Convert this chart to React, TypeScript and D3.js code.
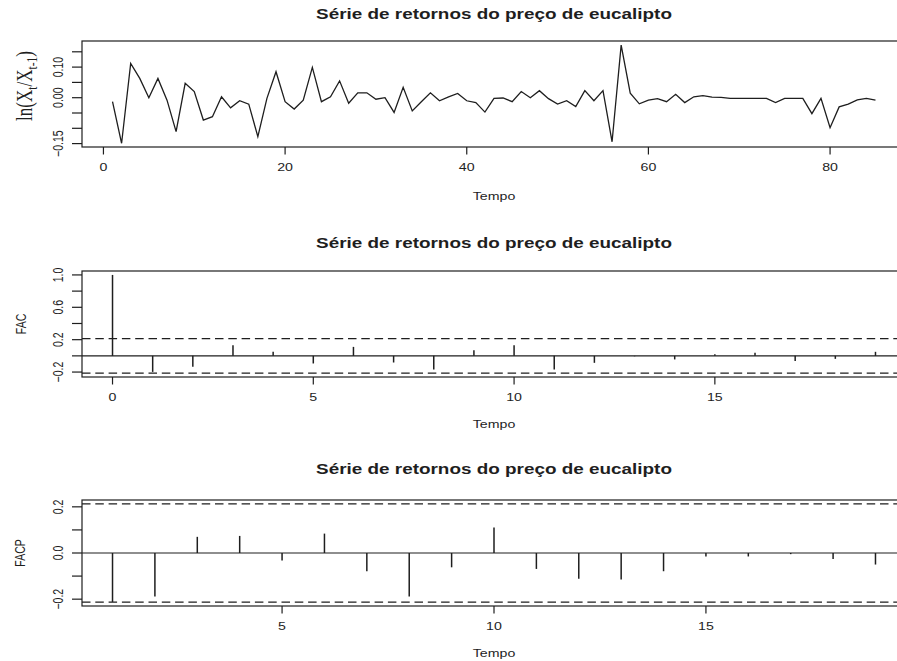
import React from 'react';
import * as d3 from 'd3';

// ---------- DATA ----------
const returnsSeries: number[] = [
  -0.013, -0.149, 0.112, 0.063, 0.0, 0.063, -0.008, -0.111, 0.047, 0.02,
  -0.073, -0.062, 0.003, -0.033, -0.01, -0.021, -0.127, -0.002, 0.085, -0.013,
  -0.037, -0.008, 0.099, -0.013, 0.003, 0.055, -0.018, 0.016, 0.016, -0.005,
  0.0, -0.048, 0.034, -0.043, -0.013, 0.016, -0.01, 0.003, 0.014, -0.01,
  -0.016, -0.047, -0.002, -0.001, -0.013, 0.02, 0.0, 0.023, -0.003, -0.021,
  -0.01, -0.029, 0.023, -0.01, 0.023, -0.144, 0.172, 0.015, -0.02, -0.008,
  -0.003, -0.013, 0.011, -0.016, 0.003, 0.007, 0.002, 0.001, -0.002, -0.002,
  -0.002, -0.002, -0.002, -0.016, -0.002, -0.002, -0.002, -0.052, -0.002, -0.098,
  -0.03, -0.021, -0.007, -0.002, -0.008,
];
const acfValues: number[] = [
  1.0, -0.198, -0.136, 0.132, 0.05, -0.094, 0.111, -0.082, -0.168, 0.07,
  0.132, -0.168, -0.086, -0.005, -0.044, 0.02, 0.037, -0.062, -0.037, 0.05,
];
const pacfValues: number[] = [
  -0.212, -0.188, 0.07, 0.074, -0.033, 0.084, -0.079, -0.188, -0.062, 0.11,
  -0.069, -0.112, -0.115, -0.079, -0.015, -0.015, -0.005, -0.026, -0.05,
];
const confBound = 0.2126;

const tsXTicks = [0, 20, 40, 60, 80];
const tsYTicks = [-0.15, -0.1, -0.05, 0, 0.05, 0.1, 0.15];
const tsYLabelled = [-0.15, 0, 0.1];
const acfXTicks = [0, 5, 10, 15];
const acfYTicks = [-0.2, 0, 0.2, 0.4, 0.6, 0.8, 1.0];
const acfYLabelled = [-0.2, 0.2, 0.6, 1.0];
const pacfXTicks = [5, 10, 15];
const pacfYTicks = [-0.2, -0.1, 0, 0.1, 0.2];
const pacfYLabelled = [-0.2, 0, 0.2];

const titleText = 'Série de retornos do preço de eucalipto';
const xLabelText = 'Tempo';
const acfLabel = 'FAC';
const pacfLabel = 'FACP';

// ---------- LAYOUT ----------
const W = 897;
const H = 661;
const LEFT = 82;
const RIGHT = 906;
const SX = 1.35; // horizontal glyph stretch of the reference
const INK = '#1e1e1e';
const FONT = '"Liberation Sans", Arial, sans-serif';

const fmt2 = (v: number) => (Math.abs(v) < 1e-9 ? '0.00' : d3.format('.2f')(v));
const fmt1 = (v: number) => (Math.abs(v) < 1e-9 ? '0.0' : d3.format('.1f')(v));

type Scale = d3.ScaleLinear<number, number>;

function Frame({ x, y, top, bottom, xTicks, yTicks, yLabelled, yFmt, titleY, xlabY }: {
  x: Scale; y: Scale; top: number; bottom: number; xTicks: number[]; yTicks: number[];
  yLabelled: number[]; yFmt: (v: number) => string; titleY: number; xlabY: number;
}) {
  return (
    <g>
      <rect x={LEFT} y={top} width={RIGHT - LEFT} height={bottom - top} fill="none" stroke={INK} strokeWidth={1.2} />
      {xTicks.map((t) => (
        <g key={'xt' + t}>
          <line x1={x(t)} x2={x(t)} y1={bottom} y2={bottom + 7.5} stroke={INK} strokeWidth={1.2} />
          <text transform={`translate(${x(t)},${bottom + 24}) scale(${SX},1)`} textAnchor="middle"
            fontFamily={FONT} fontSize={10.5} fill={INK}>{String(t)}</text>
        </g>
      ))}
      {yTicks.map((t) => (
        <line key={'yt' + t} x1={LEFT} x2={LEFT - 10} y1={y(t)} y2={y(t)} stroke={INK} strokeWidth={1.2} />
      ))}
      {yLabelled.map((t) => (
        <text key={'yl' + t} transform={`translate(63,${y(t)}) scale(${SX},1) rotate(-90)`} textAnchor="middle"
          fontFamily={FONT} fontSize={10.5} fill={INK}>{yFmt(t)}</text>
      ))}
      <text transform={`translate(${(LEFT + RIGHT) / 2},${titleY}) scale(${SX},1)`} textAnchor="middle"
        fontFamily={FONT} fontSize={14} fontWeight="bold" fill={INK}>{titleText}</text>
      <text transform={`translate(${(LEFT + RIGHT) / 2},${xlabY}) scale(${SX},1)`} textAnchor="middle"
        fontFamily={FONT} fontSize={10.5} fill={INK}>{xLabelText}</text>
    </g>
  );
}

export default function App() {
  // Panel 1: time series
  const p1Top = 41, p1Bot = 147;
  const x1 = d3.scaleLinear().domain([-2.36, 88.36]).range([LEFT, RIGHT]);
  const y1 = d3.scaleLinear().domain([-0.1611, 0.1853]).range([p1Bot, p1Top]);
  const line = d3.line<number>().x((_, i) => x1(i + 1)).y((d) => y1(d));

  // Panel 2: ACF
  const p2Top = 271, p2Bot = 377;
  const x2 = d3.scaleLinear().domain([-0.76, 19.76]).range([LEFT, RIGHT]);
  const y2 = d3.scaleLinear().domain([-0.2611, 1.0485]).range([p2Bot, p2Top]);

  // Panel 3: PACF
  const p3Top = 500, p3Bot = 606;
  const x3 = d3.scaleLinear().domain([0.28, 19.72]).range([LEFT, RIGHT]);
  const y3 = d3.scaleLinear().domain([-0.2296, 0.2296]).range([p3Bot, p3Top]);

  const dash = '8.5,4.8';

  return (
    <svg width={W} height={H} viewBox={`0 0 ${W} ${H}`}
      style={{ position: 'absolute', left: 0, top: 0, background: '#fff', overflow: 'hidden' }}>
      <rect x={0} y={0} width={W} height={H} fill="#fff" />

      {/* Panel 1 */}
      <Frame x={x1} y={y1} top={p1Top} bottom={p1Bot} xTicks={tsXTicks} yTicks={tsYTicks}
        yLabelled={tsYLabelled} yFmt={fmt2} titleY={18.5} xlabY={p1Bot + 53} />
      <path d={line(returnsSeries) || ''} fill="none" stroke={INK} strokeWidth={1.3} strokeLinejoin="miter" />
      <text transform={`translate(32,${(p1Top + p1Bot) / 2 - 8}) scale(1.3,1) rotate(-90)`} textAnchor="middle"
        fontFamily='"Liberation Serif", "Times New Roman", serif' fontSize={17} fill={INK}>
        <tspan>ln(X</tspan>
        <tspan fontSize={11.5} dy={4}>t</tspan>
        <tspan dy={-4}>/X</tspan>
        <tspan fontSize={11.5} dy={4}>t-1</tspan>
        <tspan dy={-4}>)</tspan>
      </text>

      {/* Panel 2 */}
      <Frame x={x2} y={y2} top={p2Top} bottom={p2Bot} xTicks={acfXTicks} yTicks={acfYTicks}
        yLabelled={acfYLabelled} yFmt={fmt1} titleY={247.5} xlabY={p2Bot + 51} />
      <line x1={LEFT} x2={RIGHT} y1={y2(0)} y2={y2(0)} stroke={INK} strokeWidth={1.2} />
      <line x1={LEFT} x2={RIGHT} y1={y2(confBound)} y2={y2(confBound)} stroke={INK} strokeWidth={1.2} strokeDasharray={dash} />
      <line x1={LEFT} x2={RIGHT} y1={y2(-confBound)} y2={y2(-confBound)} stroke={INK} strokeWidth={1.2} strokeDasharray={dash} />
      {acfValues.map((v, i) => (
        <line key={'acf' + i} x1={x2(i)} x2={x2(i)} y1={y2(0)} y2={y2(v)} stroke={INK} strokeWidth={1.5} />
      ))}
      <text transform={`translate(26,${(p2Top + p2Bot) / 2}) scale(${SX},1) rotate(-90)`} textAnchor="middle"
        fontFamily={FONT} fontSize={10.5} fill={INK}>{acfLabel}</text>

      {/* Panel 3 */}
      <Frame x={x3} y={y3} top={p3Top} bottom={p3Bot} xTicks={pacfXTicks} yTicks={pacfYTicks}
        yLabelled={pacfYLabelled} yFmt={fmt1} titleY={474} xlabY={p3Bot + 50.5} />
      <line x1={LEFT} x2={RIGHT} y1={y3(0)} y2={y3(0)} stroke={INK} strokeWidth={1.2} />
      <line x1={LEFT} x2={RIGHT} y1={y3(confBound)} y2={y3(confBound)} stroke={INK} strokeWidth={1.2} strokeDasharray={dash} />
      <line x1={LEFT} x2={RIGHT} y1={y3(-confBound)} y2={y3(-confBound)} stroke={INK} strokeWidth={1.2} strokeDasharray={dash} />
      {pacfValues.map((v, i) => (
        <line key={'pacf' + i} x1={x3(i + 1)} x2={x3(i + 1)} y1={y3(0)} y2={y3(v)} stroke={INK} strokeWidth={1.5} />
      ))}
      <text transform={`translate(25,${(p3Top + p3Bot) / 2}) scale(${SX},1) rotate(-90)`} textAnchor="middle"
        fontFamily={FONT} fontSize={10.5} fill={INK}>{pacfLabel}</text>
    </svg>
  );
}
